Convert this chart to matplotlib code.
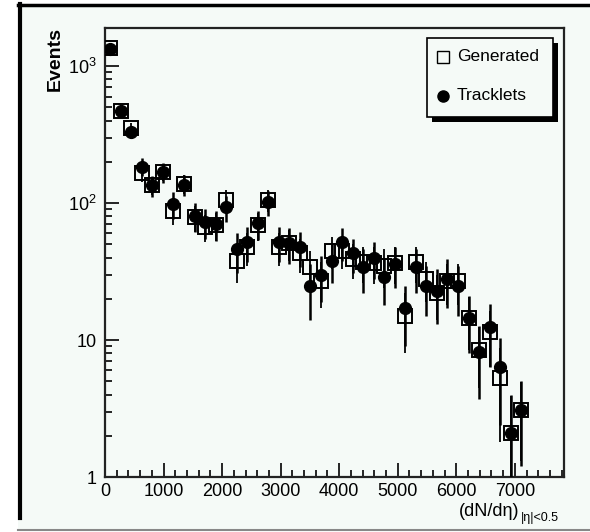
import matplotlib
matplotlib.use("Agg")
import matplotlib.pyplot as plt
from matplotlib.patches import Rectangle
from matplotlib.lines import Line2D
from matplotlib.ticker import FixedLocator, FixedFormatter, MultipleLocator

plt.rcParams['font.family'] = ['Liberation Sans', 'DejaVu Sans']
plt.rcParams['mathtext.fontset'] = 'custom'
plt.rcParams['mathtext.rm'] = 'Liberation Sans'

# ---- data ----
bin_centers = [90, 270, 450, 630, 810, 990, 1170, 1350, 1530, 1710,
               1890, 2070, 2250, 2430, 2610, 2790, 2970, 3150, 3330, 3510,
               3690, 3870, 4050, 4230, 4410, 4590, 4770, 4950, 5130, 5310,
               5490, 5670, 5850, 6030, 6210, 6390, 6570, 6750, 6930, 7110]

tracklets = [1331, 470, 333, 185, 135, 168, 99, 136, 81, 73,
             70, 93, 46, 52, 71, 102, 52, 51, 48, 25,
             30, 38, 52, 43, 34, 40, 29, 36, 17, 34,
             25, 23, 28, 25, 14.5, 8.2, 12.4, 6.4, 2.1, 3.1]
tracklets_err = [70, 42, 35, 28, 24, 27, 22, 24, 19, 18,
                 17, 20, 15, 15, 17, 21, 15, 15, 14, 11,
                 11, 12, 14, 12, 12, 12, 11, 12, 8, 12,
                 10, 10, 11, 10, 6.5, 4.5, 6, 4, 1.9, 1.9]

generated = [1350, 470, 353, 167, 135, 168, 87, 139, 79, 67,
             69, 105, 38, 48, 69, 105, 48, 51, 43, 34,
             27, 45, 45, 39, 37, 36.5, 35, 36.5, 15, 37,
             28, 22, 27, 27, 14.5, 8.5, 11.4, 5.3, 2.1, 3.1]
generated_err = [60, 38, 32, 24, 21, 24, 18, 22, 17, 15,
                 16, 19, 12, 13, 16, 19, 13, 13, 12, 11,
                 10, 12, 12, 11, 11, 11, 11, 11, 7, 11,
                 9, 8, 9, 9, 6, 4, 5, 3.5, 1.8, 1.8]

x_major = [0, 1000, 2000, 3000, 4000, 5000, 6000, 7000]
x_labels = ['0', '1000', '2000', '3000', '4000', '5000', '6000', '7000']
y_major = [1, 10, 100, 1000]
y_labels = ['1', '10', r'$10^{2}$', r'$10^{3}$']
legend_labels = ['Generated', 'Tracklets']

BG = '#f5faf7'
W, H = 590, 532
fig = plt.figure(figsize=(W / 100, H / 100), dpi=100)
fig.patch.set_facecolor('white')

def fx(px):
    return px / W

def fy(py):
    return 1 - py / H

# outer frame
bg = Rectangle((fx(18), fy(529)), fx(600) - fx(18), fy(4) - fy(529),
               transform=fig.transFigure, facecolor=BG, edgecolor='none', zorder=-10)
fig.add_artist(bg)
fig.add_artist(Line2D([fx(18), fx(600)], [fy(5), fy(5)], transform=fig.transFigure,
                      color='black', lw=2.5, zorder=-5))
fig.add_artist(Line2D([fx(20), fx(20)], [fy(4), fy(518)], transform=fig.transFigure,
                      color='black', lw=3, zorder=-5))
fig.add_artist(Line2D([fx(18), fx(600)], [fy(529.5), fy(529.5)], transform=fig.transFigure,
                      color='#888888', lw=1.5, zorder=-5))

ax_l, ax_r, ax_t, ax_b = 105, 564, 28, 477
ax = fig.add_axes([fx(ax_l), fy(ax_b), fx(ax_r) - fx(ax_l), fy(ax_t) - fy(ax_b)])
ax.set_facecolor(BG)
ax.set_yscale('log')
ax.set_xlim(0, 7840)
ax.set_ylim(1, 1900)

gen_lo = [min(e, v * 0.999) for v, e in zip(generated, generated_err)]
trk_lo = [min(e, v * 0.999) for v, e in zip(tracklets, tracklets_err)]

ax.errorbar(bin_centers, generated, yerr=[gen_lo, generated_err], fmt='s',
            mfc='none', mec='black', mew=1.4, ms=10, ecolor='black',
            elinewidth=1.3, capsize=0, zorder=3)
ax.errorbar(bin_centers, tracklets, yerr=[trk_lo, tracklets_err], fmt='o',
            mfc='black', mec='black', ms=8.5, ecolor='black',
            elinewidth=1.8, capsize=0, zorder=4)

for s in ax.spines.values():
    s.set_linewidth(1.6)
    s.set_color('#222222')

ax.xaxis.set_major_locator(FixedLocator(x_major))
ax.xaxis.set_major_formatter(FixedFormatter(x_labels))
ax.xaxis.set_minor_locator(MultipleLocator(200))
ax.yaxis.set_major_locator(FixedLocator(y_major))
ax.yaxis.set_major_formatter(FixedFormatter(y_labels))
ax.yaxis.set_minor_locator(FixedLocator([m * 10 ** d for d in range(0, 4) for m in range(2, 10)]))

ax.tick_params(axis='both', which='both', direction='in', labelsize=13, width=1.2,
               top=False, right=False)
ax.tick_params(axis='x', which='major', length=10, pad=4)
ax.tick_params(axis='x', which='minor', length=5)
ax.tick_params(axis='y', which='major', length=10, pad=6)
ax.tick_params(axis='y', which='minor', length=5)

# axis titles
fig.text(fx(55), fy(27), 'Events', rotation=90, ha='center', va='top',
         fontsize=14, fontweight='bold')
fig.text(fx(519), fy(511), '(dN/dη)', ha='right', va='center', fontsize=13)
fig.text(fx(521), fy(518), '|η|<0.5', ha='left', va='center', fontsize=9)

# legend (ROOT style with shadow)
def axx(px):
    return (px - ax_l) / (ax_r - ax_l)

def axy(py):
    return (ax_b - py) / (ax_b - ax_t)

ax.add_patch(Rectangle((axx(432), axy(122)), axx(558) - axx(432), axy(43) - axy(122),
                       transform=ax.transAxes, facecolor='black', edgecolor='none',
                       zorder=9, clip_on=False))
ax.add_patch(Rectangle((axx(427), axy(117)), axx(553) - axx(427), axy(38) - axy(117),
                       transform=ax.transAxes, facecolor=BG, edgecolor='black', lw=1.2,
                       zorder=10, clip_on=False))
ax.plot([axx(443)], [axy(57)], 's', transform=ax.transAxes, mfc='none', mec='black',
        mew=1.0, ms=9, zorder=11, clip_on=False)
ax.plot([axx(443)], [axy(96)], 'o', transform=ax.transAxes, mfc='black', mec='black',
        ms=8, zorder=11, clip_on=False)
ax.text(axx(457), axy(57), legend_labels[0], transform=ax.transAxes, ha='left',
        va='center', fontsize=12.5, zorder=11)
ax.text(axx(457), axy(96), legend_labels[1], transform=ax.transAxes, ha='left',
        va='center', fontsize=12.5, zorder=11)

fig.savefig('out.png', dpi=100, facecolor=fig.get_facecolor())
